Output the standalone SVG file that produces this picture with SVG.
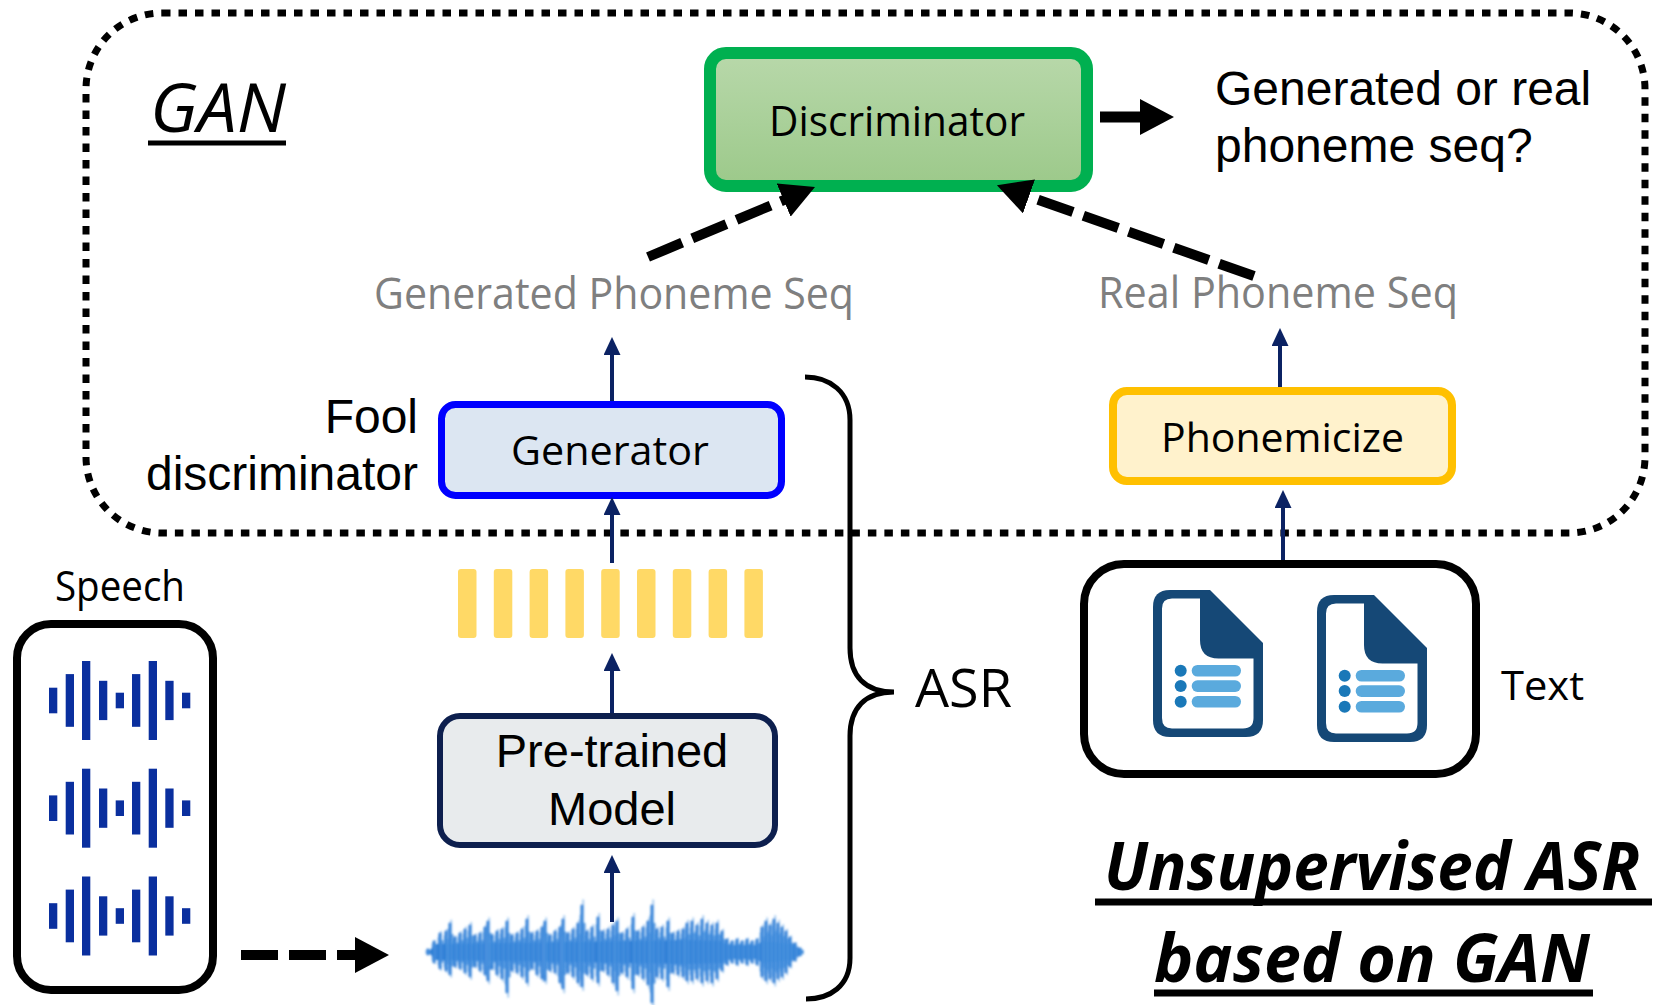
<svg xmlns="http://www.w3.org/2000/svg" xmlns:xlink="http://www.w3.org/1999/xlink" width="1658" height="1005" viewBox="0 0 1658 1005">
  <style>
    .cal { font-family: 'Open Sans', 'Noto Sans', 'DejaVu Sans', sans-serif; }
    .ari { font-family: 'Liberation Sans', Arial, sans-serif; }
    .navy { fill: none; stroke: #0b2263; stroke-width: 4; marker-end: url(#headNavy); }
    .dash { fill: none; stroke: #000; stroke-width: 10; stroke-dasharray: 37 11; marker-end: url(#headBlack); }
    .wbar { fill: #0a2f9e; }
    .fbar { fill: #ffd966; }
  </style>
  <defs>
    <linearGradient id="discFill" x1="0" y1="0" x2="0" y2="1">
      <stop offset="0" stop-color="#b8d8aa"/>
      <stop offset="1" stop-color="#9cc98a"/>
    </linearGradient>
    <marker id="headNavy" markerUnits="userSpaceOnUse" viewBox="0 0 18 17" markerWidth="18" markerHeight="17" refX="3" refY="8.5" orient="auto">
      <path d="M0 0 L18 8.5 L0 17 Z" fill="#0b2263"/>
    </marker>
    <marker id="headBlack" markerUnits="userSpaceOnUse" viewBox="0 0 34 36" markerWidth="34" markerHeight="36" refX="2" refY="18" orient="auto">
      <path d="M0 0 L34 18 L0 36 Z" fill="#000"/>
    </marker>
    <filter id="soft" x="-5%" y="-20%" width="110%" height="140%">
      <feGaussianBlur stdDeviation="0.9"/>
    </filter>
    <!-- spike columns of the recorded waveform -->
    <path id="spikes" d="M428 950V954M434 942V962M440 934V968M446 932V970M450 924V974M455 938V966M460 934V968M465 930V972M470 926V976M475 936V966M480 934V970M485 928V974M488 922V980M492 936V968M497 932V974M502 930V978M507 922V992M512 936V970M517 934V972M522 930V976M527 920V982M532 934V968M537 932V974M542 928V978M545 922V980M550 936V970M555 932V972M560 928V982M563 920V988M568 934V972M573 930V976M578 924V982M582 906V986M587 932V974M592 928V978M598 918V982M603 932V970M608 930V974M613 926V982M617 922V990M622 934V972M627 930V976M633 918V988M638 932V974M643 928V978M648 922V984M652 906V1002M657 930V976M662 928V978M668 922V986M673 934V972M678 932V974M683 930V976M687 924V980M692 922V980M697 926V978M702 920V982M707 924V980M712 926V982M717 924V978M722 932V970M727 940V964M732 942V962M737 940V964M742 942V962M747 940V964M752 942V962M757 940V964M762 928V976M766 922V980M770 926V978M774 920V982M778 924V978M782 928V976M786 932V972M790 938V966M795 944V960M800 949V955"/>
    <!-- document icon -->
    <g id="doc">
      <path d="M17 0 H57 L110 53 V130 Q110 147 93 147 H17 Q0 147 0 130 V17 Q0 0 17 0 Z" fill="#154876"/>
      <path d="M19 8.5 H47 V50 Q47 68.5 65.5 68.5 H100.5 V128 Q100.5 138.5 90 138.5 H19 Q9 138.5 9 128 V18.5 Q9 8.5 19 8.5 Z" fill="#fff"/>
      <circle cx="27.7" cy="80.7" r="6" fill="#1a78b8"/>
      <circle cx="27.7" cy="96" r="6" fill="#1a78b8"/>
      <circle cx="27.7" cy="111.7" r="6" fill="#1a78b8"/>
      <rect x="38.7" y="74.9" width="49.3" height="11.7" rx="5.8" fill="#5aaadd"/>
      <rect x="38.7" y="90.2" width="49.3" height="11.7" rx="5.8" fill="#5aaadd"/>
      <rect x="38.7" y="105.9" width="49.3" height="11.7" rx="5.8" fill="#5aaadd"/>
    </g>
    <!-- speech glyph: nine bars -->
    <g id="voice">
      <rect class="wbar" x="49" y="-12.8" width="8.3" height="25.6"/>
      <rect class="wbar" x="65.7" y="-26.4" width="8.3" height="52.7"/>
      <rect class="wbar" x="82" y="-39.5" width="8.3" height="79"/>
      <rect class="wbar" x="99" y="-19.7" width="8.3" height="39.3"/>
      <rect class="wbar" x="115.7" y="-7.8" width="8.3" height="15.6"/>
      <rect class="wbar" x="132" y="-26.4" width="8.3" height="52.7"/>
      <rect class="wbar" x="148.7" y="-39.5" width="8.3" height="79"/>
      <rect class="wbar" x="165.3" y="-19.7" width="8.3" height="39.3"/>
      <rect class="wbar" x="182" y="-7.8" width="8.3" height="15.6"/>
    </g>
  </defs>

  <rect width="1658" height="1005" fill="#fff"/>

  <!-- GAN region -->
  <g id="gan-region">
    <rect x="86" y="13" width="1559" height="520" rx="76" ry="76" fill="none" stroke="#000" stroke-width="7" stroke-dasharray="8.5 8"/>
    <text class="cal" x="150" y="132" font-size="67" font-style="italic" textLength="136" lengthAdjust="spacingAndGlyphs">GAN</text>
    <rect x="148" y="140.5" width="138" height="5" fill="#000"/>
  </g>

  <!-- Discriminator -->
  <g id="discriminator">
    <rect x="710" y="53" width="377" height="133" rx="16" fill="url(#discFill)" stroke="#00b050" stroke-width="12"/>
    <text class="cal" x="769" y="136" font-size="42" textLength="256" lengthAdjust="spacingAndGlyphs">Discriminator</text>
  </g>

  <g id="verdict">
    <text class="ari" x="1215" y="105" font-size="48">Generated or real</text>
    <text class="ari" x="1215" y="162" font-size="48">phoneme seq?</text>
  </g>

  <g id="generated-seq">
    <text class="cal" x="374" y="309" font-size="44" fill="#7f7f7f" textLength="480" lengthAdjust="spacingAndGlyphs">Generated Phoneme Seq</text>
  </g>

  <g id="real-seq">
    <text class="cal" x="1098" y="308" font-size="44" fill="#7f7f7f" textLength="360" lengthAdjust="spacingAndGlyphs">Real Phoneme Seq</text>
  </g>

  <!-- Generator -->
  <g id="generator">
    <rect x="441.5" y="404.5" width="340" height="91" rx="14" fill="#dce6f2" stroke="#0000ff" stroke-width="7"/>
    <text class="cal" x="511" y="465" font-size="41" textLength="198" lengthAdjust="spacingAndGlyphs">Generator</text>
  </g>

  <g id="fool-label">
    <text class="ari" x="418" y="433" font-size="48" text-anchor="end">Fool</text>
    <text class="ari" x="418" y="490" font-size="48" text-anchor="end">discriminator</text>
  </g>

  <!-- Phonemicize -->
  <g id="phonemicize">
    <rect x="1113" y="391" width="339" height="90" rx="14" fill="#fff2cc" stroke="#ffc000" stroke-width="8"/>
    <text class="cal" x="1161" y="452" font-size="41" textLength="243" lengthAdjust="spacingAndGlyphs">Phonemicize</text>
  </g>

  <!-- Feature frames -->
  <g id="features">
    <rect class="fbar" x="458" y="569" width="18.5" height="69" rx="3"/>
    <rect class="fbar" x="493.8" y="569" width="18.5" height="69" rx="3"/>
    <rect class="fbar" x="529.6" y="569" width="18.5" height="69" rx="3"/>
    <rect class="fbar" x="565.4" y="569" width="18.5" height="69" rx="3"/>
    <rect class="fbar" x="601.2" y="569" width="18.5" height="69" rx="3"/>
    <rect class="fbar" x="637" y="569" width="18.5" height="69" rx="3"/>
    <rect class="fbar" x="672.8" y="569" width="18.5" height="69" rx="3"/>
    <rect class="fbar" x="708.6" y="569" width="18.5" height="69" rx="3"/>
    <rect class="fbar" x="744.4" y="569" width="18.5" height="69" rx="3"/>
  </g>

  <!-- Pre-trained Model -->
  <g id="pretrained">
    <rect x="440" y="716" width="335" height="129" rx="20" fill="#e8ebed" stroke="#0d1f4e" stroke-width="6"/>
    <text class="ari" x="612" y="767" font-size="47" text-anchor="middle">Pre-trained</text>
    <text class="ari" x="612" y="825" font-size="47" text-anchor="middle">Model</text>
  </g>

  <!-- Speech corpus -->
  <g id="speech">
    <text class="cal" x="55" y="601" font-size="42" textLength="130" lengthAdjust="spacingAndGlyphs">Speech</text>
    <rect x="17" y="624" width="196" height="366" rx="34" fill="none" stroke="#000" stroke-width="8"/>
    <use xlink:href="#voice" href="#voice" transform="translate(0 700.5)"/>
    <use xlink:href="#voice" href="#voice" transform="translate(0 808.2)"/>
    <use xlink:href="#voice" href="#voice" transform="translate(0 916)"/>
  </g>

  <!-- Waveform -->
  <g id="waveform" filter="url(#soft)">
    <path d="M428 952 L436 944 L686 940 L722 941 L727 945 L757 945 L762 941 L792 944 L804 952 L792 960 L762 963 L757 959 L727 959 L722 963 L686 964 L436 960 Z" fill="#1a6dcc"/>
    <use xlink:href="#spikes" href="#spikes" fill="none" stroke="#1d72d2" stroke-width="2.8" stroke-linecap="round"/>
    <use xlink:href="#spikes" href="#spikes" fill="none" stroke="#2a7fd8" stroke-width="2.4" stroke-linecap="round" opacity="0.85" transform="translate(2.3 952) scale(1 0.62) translate(0 -952)"/>
    <use xlink:href="#spikes" href="#spikes" fill="none" stroke="#4a93de" stroke-width="2" stroke-linecap="round" opacity="0.7" transform="translate(-1.4 952) scale(1 0.8) translate(0 -952)"/>
    <use xlink:href="#spikes" href="#spikes" fill="none" stroke="#6aa8e6" stroke-width="2" stroke-linecap="round" opacity="0.55" transform="translate(1.2 952) scale(1 1.12) translate(0 -952)"/>
  </g>

  <!-- ASR brace -->
  <g id="asr">
    <path d="M805 377 C830 377 850 392 850 420 L850 648 C850 676 865 692 894 692 C865 692 850 708 850 736 L850 958 C850 986 830 999 806 999" fill="none" stroke="#000" stroke-width="5"/>
    <text class="cal" x="915" y="707" font-size="53" textLength="97" lengthAdjust="spacingAndGlyphs">ASR</text>
  </g>

  <!-- Text corpus -->
  <g id="text-corpus">
    <rect x="1084" y="564" width="392" height="210" rx="40" fill="none" stroke="#000" stroke-width="8"/>
    <use xlink:href="#doc" href="#doc" transform="translate(1153 590)"/>
    <use xlink:href="#doc" href="#doc" transform="translate(1317 595)"/>
    <text class="cal" x="1501" y="700" font-size="40" textLength="83" lengthAdjust="spacingAndGlyphs">Text</text>
  </g>

  <!-- Title -->
  <g id="title">
    <text class="cal" x="1104" y="890" font-size="66" font-weight="bold" font-style="italic" textLength="536" lengthAdjust="spacingAndGlyphs">Unsupervised ASR</text>
    <rect x="1095" y="898.5" width="557" height="7" fill="#000"/>
    <text class="cal" x="1154" y="982" font-size="66" font-weight="bold" font-style="italic" textLength="436" lengthAdjust="spacingAndGlyphs">based on GAN</text>
    <rect x="1154" y="989.5" width="439" height="7" fill="#000"/>
  </g>

  <!-- Connectors -->
  <g id="connectors">
    <path class="navy" d="M612 401 V352"/>
    <path class="navy" d="M612 563 V512"/>
    <path class="navy" d="M612 713 V668"/>
    <path class="navy" d="M612 922 V870"/>
    <path class="navy" d="M1283 560 V505"/>
    <path class="navy" d="M1280 387 V343"/>
    <path class="dash" d="M648 257 L785.5 199.3"/>
    <path class="dash" d="M1254 276 L1027.1 195.8"/>
    <path class="dash" stroke-dasharray="34 13" d="M241 955 H357"/>
    <path d="M1100 117 H1142" fill="none" stroke="#000" stroke-width="11" marker-end="url(#headBlack)"/>
  </g>
</svg>
